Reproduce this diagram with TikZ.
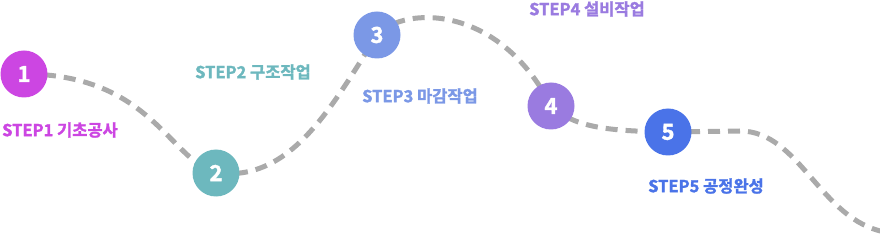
\documentclass[tikz,border=0pt]{standalone}
\usepackage{fontspec}
\setmainfont{Noto Sans CJK KR}
\newfontfamily\stepfont{Noto Sans CJK KR Bold}[FakeBold=1.6]
\usetikzlibrary{backgrounds}

\definecolor{stepone}{HTML}{CC46E2}
\definecolor{steptwo}{HTML}{6DB8BE}
\definecolor{stepthree}{HTML}{7B98E6}
\definecolor{stepfour}{HTML}{9A7BE0}
\definecolor{stepfive}{HTML}{4A73E8}
\definecolor{roadgray}{HTML}{AAAAAA}

\begin{document}
\begin{tikzpicture}[x=1pt, y=-1pt,
    stepdot/.style={circle, minimum size=47pt, inner sep=0pt, text=white, font=\stepfont\fontsize{22}{22}\selectfont},
    steplabel/.style={anchor=west, inner sep=0pt, font=\stepfont\fontsize{16.5}{16.5}\selectfont},
    road/.style={draw=roadgray, line width=5pt, dash pattern=on 12pt off 8pt}]
    \useasboundingbox (0,0) rectangle (880,240);

    % Draw nodes
    \node[stepdot, fill=stepone] (1) at (24,74) {1};
    \node[stepdot, fill=steptwo] (2) at (216,173) {2};
    \node[stepdot, fill=stepthree] (3) at (377,35) {3};
    \node[stepdot, fill=stepfour] (4) at (551,106) {4};
    \node[stepdot, fill=stepfive] (5) at (668,132) {5};
    \coordinate (bend) at (740,131);
    \coordinate (end) at (885,232);

    % Draw connections
    \begin{scope}[on background layer]
        \draw[road] (1.center) .. controls (150,74) and (170,160) .. (2.center);
        \draw[road] (2.center) .. controls (290,182) and (330,110) .. (3.center);
        \draw[road] (3.center) .. controls (405,5) and (500,5) .. (4.center);
        \draw[road] (4.center) .. controls (575,128) and (610,131) .. (5.center);
        \draw[road] (5.center) -- (bend) .. controls (800,131) and (820,220) .. (end);
    \end{scope}

    % Labels
    \node[steplabel, text=stepone] (l1) at (2,130) {STEP1 기초공사};
    \node[steplabel, text=steptwo] (l2) at (195,72) {STEP2 구조작업};
    \node[steplabel, text=stepthree] (l3) at (362,96) {STEP3 마감작업};
    \node[steplabel, text=stepfour] (l4) at (529,9) {STEP4 설비작업};
    \node[steplabel, text=stepfive] (l5) at (648,186) {STEP5 공정완성};
\end{tikzpicture}
\end{document}
